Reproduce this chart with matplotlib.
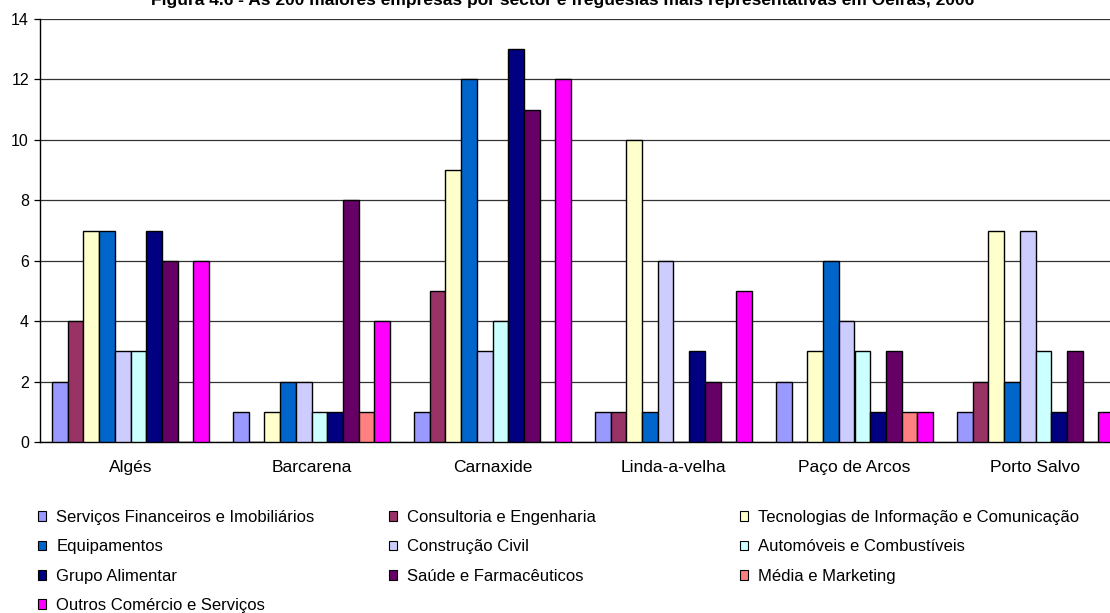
import numpy as np
import matplotlib
matplotlib.use('Agg')
import matplotlib.pyplot as plt
from matplotlib.patches import Patch

plt.rcParams['font.family'] = ['Liberation Sans', 'DejaVu Sans']

# freguesias e sectores
freguesias = ['Algés', 'Barcarena', 'Carnaxide', 'Linda-a-velha', 'Paço de Arcos', 'Porto Salvo']

sectores = ['Serviços Financeiros e Imobiliários', 'Consultoria e Engenharia',
            'Tecnologias de Informação e Comunicação', 'Equipamentos', 'Construção Civil',
            'Automóveis e Combustíveis', 'Grupo Alimentar', 'Saúde e Farmacêuticos',
            'Média e Marketing', 'Outros Comércio e Serviços']

cores = ['#9999FF', '#993366', '#FFFFCC', '#0066CC', '#CCCCFF',
         '#CCFFFF', '#000080', '#660066', '#FF8080', '#FF00FF']

# numero de empresas por sector em cada freguesia
servicos_fin = [2, 1, 1, 1, 2, 1]
consultoria = [4, 0, 5, 1, 0, 2]
tecnologias = [7, 1, 9, 10, 3, 7]
equipamentos = [7, 2, 12, 1, 6, 2]
construcao = [3, 2, 3, 6, 4, 7]
automoveis = [3, 1, 4, 0, 3, 3]
alimentar = [7, 1, 13, 3, 1, 1]
saude = [6, 8, 11, 2, 3, 3]
media = [0, 1, 0, 0, 1, 0]
outros = [6, 4, 12, 5, 1, 1]

valores = [servicos_fin, consultoria, tecnologias, equipamentos, construcao,
           automoveis, alimentar, saude, media, outros]

fig = plt.figure(figsize=(11.1, 6.13), dpi=100)
ax = fig.add_axes([40/1110, 1 - 442/613, 1086/1110, 423/613])

x = np.arange(len(freguesias))
largura = 0.0867
for i, serie in enumerate(valores):
    pos = x + (i - 4.5) * largura
    ax.bar(pos, serie, width=largura, color=cores[i], edgecolor='black',
           linewidth=1.0, zorder=3)

ax.set_xlim(-0.5, len(freguesias) - 0.5)
ax.set_ylim(0, 14)
ax.set_yticks(range(0, 15, 2))
ax.yaxis.grid(True, color='#333333', linewidth=0.9, zorder=0)
ax.set_xticks(x)
ax.set_xticklabels(freguesias, fontsize=12.5)
ax.tick_params(axis='x', length=0, pad=13)
ax.tick_params(axis='y', length=4, width=0.9, direction='out', labelsize=11.5, pad=4)

for lado in ['top', 'right']:
    ax.spines[lado].set_visible(False)
ax.spines['left'].set_linewidth(1.0)
ax.spines['bottom'].set_linewidth(1.0)

fig.text(563/1110, 1 - 5/613,
         'Figura 4.6 - As 200 maiores empresas por sector e freguesias mais representativas em Oeiras, 2006',
         ha='center', va='baseline', fontsize=12.5, fontweight='bold')

# legenda em tres colunas, preenchida por linhas
colunas_x = [38/1110, 389/1110, 740/1110]
for c in range(3):
    idx = list(range(c, len(sectores), 3))
    handles = [Patch(facecolor=cores[k], edgecolor='black', linewidth=0.8) for k in idx]
    leg = fig.legend(handles, [sectores[k] for k in idx], loc='upper left',
                     bbox_to_anchor=(colunas_x[c], 1 - 510/613), frameon=False,
                     fontsize=12, handlelength=0.5, handleheight=0.5,
                     handletextpad=0.6, labelspacing=0.86, borderpad=0,
                     borderaxespad=0)

fig.savefig('out.png', dpi=100)
